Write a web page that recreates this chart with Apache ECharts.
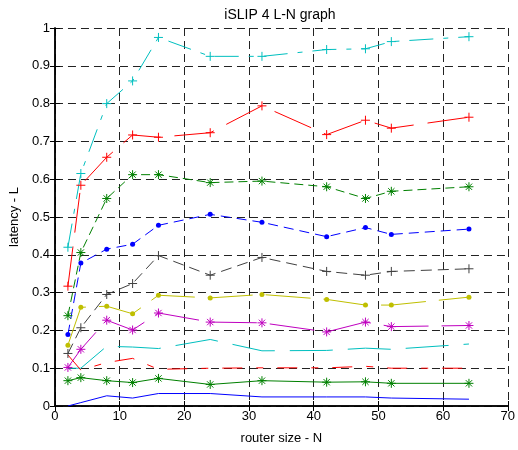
<!DOCTYPE html>
<html>
<head>
<meta charset="utf-8">
<script src="https://cdn.jsdelivr.net/npm/echarts@6/dist/echarts.min.js"></script>
<style>
html, body { margin: 0; padding: 0; background: #fff; }
#chart { width: 518px; height: 450px; }
</style>
</head>
<body>
<div id="chart"></div>
<script>
var routerSize = [2, 4, 8, 12, 16, 24, 32, 42, 48, 52, 64];

var cyanPlus    = [0.420, 0.615, 0.800, 0.860, 0.975, 0.925, 0.925, 0.943, 0.945, 0.964, 0.977];
var redPlus     = [0.317, 0.584, 0.658, 0.717, 0.711, 0.723, 0.794, 0.718, 0.756, 0.735, 0.764];
var greenStar   = [0.239, 0.406, 0.549, 0.612, 0.612, 0.591, 0.595, 0.580, 0.549, 0.568, 0.580];
var blueDot     = [0.189, 0.378, 0.415, 0.428, 0.478, 0.507, 0.486, 0.448, 0.472, 0.454, 0.468];
var grayPlus    = [0.139, 0.207, 0.295, 0.324, 0.398, 0.346, 0.393, 0.356, 0.346, 0.356, 0.363];
var yellowDot   = [0.161, 0.261, 0.264, 0.244, 0.293, 0.286, 0.295, 0.282, 0.267, 0.267, 0.288];
var magentaStar = [0.102, 0.150, 0.227, 0.201, 0.246, 0.222, 0.220, 0.196, 0.222, 0.210, 0.213];
var cyanLine    = [0.100, 0.100, 0.158, 0.156, 0.152, 0.176, 0.146, 0.147, 0.153, 0.150, 0.164];
var redDash     = [0.135, 0.095, 0.115, 0.126, 0.097, 0.100, 0.101, 0.101, 0.105, 0.100, 0.100];
var greenLine   = [0.067, 0.075, 0.067, 0.062, 0.073, 0.057, 0.067, 0.063, 0.064, 0.060, 0.060];
var blueLine    = [0.000, 0.009, 0.027, 0.021, 0.033, 0.033, 0.024, 0.024, 0.024, 0.021, 0.018];

var xTicks = [0, 10, 20, 30, 40, 50, 60, 70];
var yTicks = [0, 0.1, 0.2, 0.3, 0.4, 0.5, 0.6, 0.7, 0.8, 0.9, 1];

var PLUS = 'path://M5 0V10M0 5H10';
var STAR = 'path://M5 0V10M0 5H10M1.5 1.5L8.5 8.5M8.5 1.5L1.5 8.5';
var FONT = 'Liberation Sans, Arial, sans-serif';

function pairs(ys) {
	return routerSize.map(function(x, i) { return [x, ys[i]]; });
}

function line(data, color, dash, symbol, size) {
	return {
		type: 'line',
		data: pairs(data),
		symbol: symbol || 'none',
		symbolSize: size || 9,
		showSymbol: !!symbol,
		lineStyle: { color: color, width: 1, type: dash },
		itemStyle: { color: symbol === 'circle' ? color : 'rgba(0,0,0,0)', borderColor: color, borderWidth: symbol === 'circle' ? 0 : 1 },
		emphasis: { disabled: true },
		z: 3
	};
}

var chart = echarts.init(document.getElementById('chart'));
var option = {
	animation: false,
	backgroundColor: '#fff',
	title: {
		text: 'iSLIP 4 L-N graph',
		left: 275,
		top: 3,
		textAlign: 'center',
		textStyle: { color: '#000', fontSize: 14, fontWeight: 'normal', fontFamily: FONT }
	},
	grid: { left: 54, right: 6, top: 28, bottom: 42 },
	xAxis: [{
		type: 'value',
		min: xTicks[0],
		max: xTicks[xTicks.length - 1],
		interval: 10,
		name: 'router size - N',
		nameLocation: 'middle',
		nameGap: 26,
		nameTextStyle: { color: '#000', fontSize: 13, fontFamily: FONT },
		axisLine: { show: true, lineStyle: { color: '#000', width: 1.5 } },
		axisTick: { show: true, inside: true, length: 5, lineStyle: { color: '#000' } },
		axisLabel: { color: '#000', fontSize: 13, margin: 4, fontFamily: FONT },
		splitLine: { show: true, lineStyle: { color: '#222', width: 1, type: [8, 5] } }
	}, {
		type: 'value',
		position: 'top',
		min: xTicks[0],
		max: xTicks[xTicks.length - 1],
		interval: 10,
		axisLine: { show: true, lineStyle: { color: '#000', width: 1.5 } },
		axisTick: { show: true, inside: true, length: 5, lineStyle: { color: '#000' } },
		axisLabel: { show: false },
		splitLine: { show: false }
	}],
	yAxis: [{
		type: 'value',
		min: yTicks[0],
		max: yTicks[yTicks.length - 1],
		interval: 0.1,
		name: 'latency - L',
		nameLocation: 'middle',
		nameGap: 30,
		nameTextStyle: { color: '#000', fontSize: 13, fontFamily: FONT },
		axisLine: { show: true, lineStyle: { color: '#000', width: 1.5 } },
		axisTick: { show: true, inside: true, length: 5, lineStyle: { color: '#000' } },
		axisLabel: {
			color: '#000', fontSize: 13, margin: 5, fontFamily: FONT,
			formatter: function(v) { return String(+v.toFixed(1)); }
		},
		splitLine: { show: true, lineStyle: { color: '#222', width: 1, type: [8, 5] } }
	}, {
		type: 'value',
		position: 'right',
		min: yTicks[0],
		max: yTicks[yTicks.length - 1],
		interval: 0.1,
		axisLine: { show: true, lineStyle: { color: '#000', width: 1.5 } },
		axisTick: { show: true, inside: true, length: 5, lineStyle: { color: '#000' } },
		axisLabel: { show: false },
		splitLine: { show: false }
	}],
	series: [
		line(cyanPlus, '#00bfbf', [24, 10, 5, 10], PLUS, 9),
		line(redPlus, '#ff0000', [40, 14], PLUS, 9),
		line(greenStar, '#008000', [9, 5], STAR, 9),
		line(blueDot, '#0000ff', [10, 6], 'circle', 5),
		line(grayPlus, '#404040', [11, 6], PLUS, 9),
		line(yellowDot, '#bfbf00', [45, 13], 'circle', 5),
		line(magentaStar, '#bf00bf', [45, 13], STAR, 9),
		line(cyanLine, '#00bfbf', [43, 15]),
		line(redDash, '#ff0000', [20, 14, 7, 14]),
		line(greenLine, '#008000', 'solid', STAR, 9),
		line(blueLine, '#0000ff', 'solid')
	]
};
chart.setOption(option);
</script>
</body>
</html>
